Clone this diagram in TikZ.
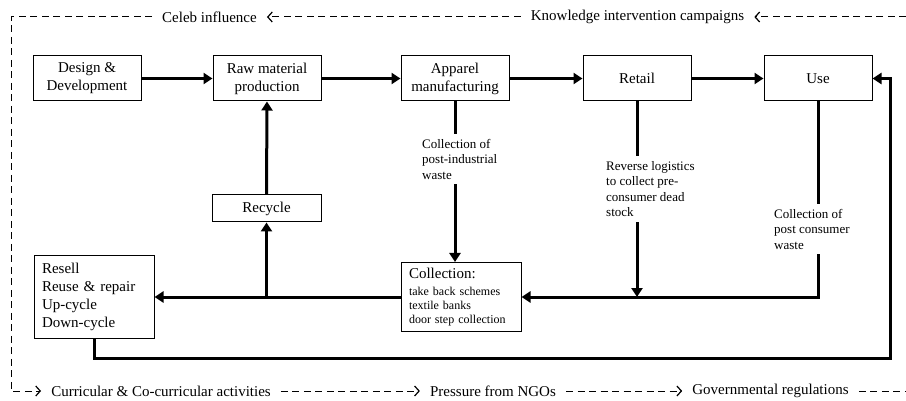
\documentclass[tikz,border=0pt]{standalone}
\usepackage{fontspec}
\setmainfont{Liberation Serif}
\usetikzlibrary{arrows.meta}
\begin{document}
\begin{tikzpicture}[x=1pt,y=-1pt,
  procbox/.style={draw,line width=1pt,minimum width=108pt,minimum height=45pt,align=center,font=\fontsize{15}{18}\selectfont,inner sep=2pt},
  flow/.style={line width=3pt,-{Triangle[length=9pt,width=11pt]}},
  lbl/.style={fill=white,align=left,inner xsep=2pt,inner ysep=5pt,anchor=north west,font=\fontsize{13}{15.5}\selectfont},
  dtext/.style={font=\fontsize{15}{18}\selectfont,inner xsep=10pt,inner ysep=2pt},
  dline/.style={line width=1pt,dash pattern=on 7pt off 4.5pt},
  dtip/.style={-{Straight Barb[length=4.5pt,width=10pt,line width=1.2pt]}}
]
\useasboundingbox (0,0) rectangle (906,401);
% process boxes
\node[procbox] (dd) at (87,78.5) {Design \&\\Development};
\node[procbox] (raw) at (267,78.5) {Raw material\\production};
\node[procbox] (app) at (455,78.5) {Apparel\\manufacturing};
\node[procbox] (ret) at (637,78.5) {Retail};
\node[procbox] (use) at (818,78.5) {Use};
\node[procbox,minimum width=109pt,minimum height=27pt] (rec) at (266.5,208.5) {Recycle};
\node[procbox,text width=104pt,align=left,minimum width=120pt,minimum height=69pt,inner xsep=8pt,
  font=\fontsize{12}{14}\selectfont] (col) at (461,297)
  {{\fontsize{15}{18}\selectfont Collection:}\\[3pt]take back schemes\\textile banks\\door step collection};
\node[procbox,text width=104pt,align=left,minimum width=120pt,minimum height=82pt,inner xsep=8pt] (res) at (94,297)
  {Resell\\Reuse \& repair\\Up-cycle\\Down-cycle};
% connectors
\draw[flow] (dd.east) -- (raw.west);
\draw[flow] (raw.east) -- (app.west);
\draw[flow] (app.east) -- (ret.west);
\draw[flow] (ret.east) -- (use.west);
\draw[flow] (rec.north) -- (raw.south);
\draw[flow] (col.west) -- (res.east);
\coordinate (j1) at (rec.south |- col.west);
\draw[flow] (j1) -- (rec.south);
\draw[flow] (app.south) -- (app.south |- col.north);
\draw[flow] (ret.south) -- (ret.south |- col.east);
\draw[flow] (use.south) |- (col.east);
\coordinate (lp) at (890,358);
\draw[flow] (res.south) |- (lp) |- (use.east);
% labels on connectors
\node[lbl] (l1) at (420,134) {Collection of\\post-industrial\\waste};
\node[lbl] (l2) at (604,156) {Reverse logistics\\to collect pre-\\consumer dead\\stock};
\node[lbl] (l3) at (772,204) {Collection of\\post consumer\\waste};
% dashed frame
\coordinate (tr) at (906,17);
\coordinate (tl) at (11,17);
\coordinate (bl) at (11,391);
\coordinate (br) at (906,391);
\node[dtext] (kic) at (637.5,17) {Knowledge intervention campaigns};
\node[dtext] (celeb) at (209.5,17) {Celeb influence};
\node[dtext] (cur) at (161,391) {Curricular \& Co-curricular activities};
\node[dtext] (ngo) at (493,391) {Pressure from NGOs};
\node[dtext] (gov) at (770.5,391) {Governmental regulations};
\draw[dline,dtip] (tr) -- (kic.east);
\draw[dline,dtip] (kic.west) -- (celeb.east);
\draw[dline,dtip] (celeb.west) -- (tl) -- (bl) -- (cur.west);
\draw[dline,dtip] (cur.east) -- (ngo.west);
\draw[dline,dtip] (ngo.east) -- (gov.west);
\draw[dline] (gov.east) -- (br);
\end{tikzpicture}
\end{document}
